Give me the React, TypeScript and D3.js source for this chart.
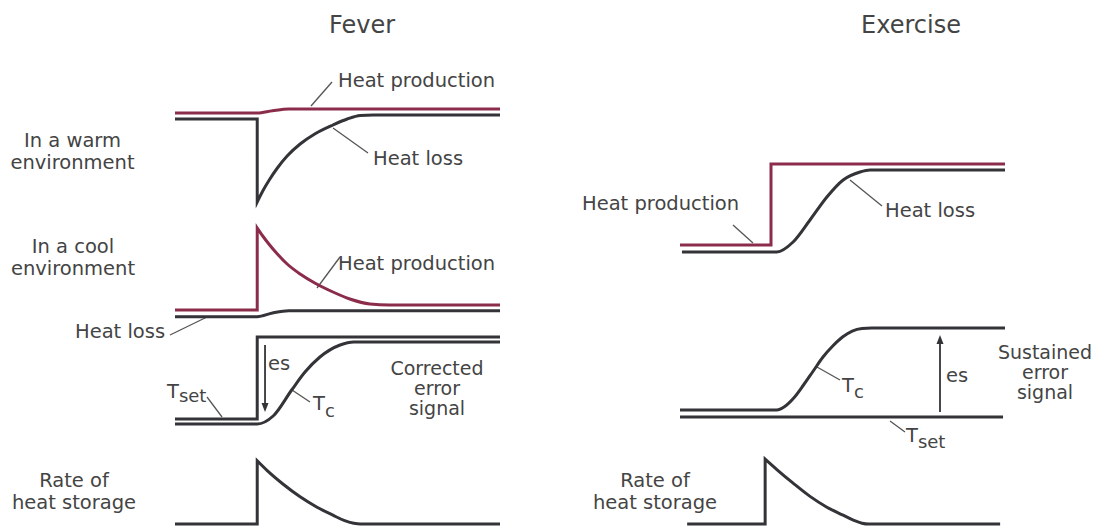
import React from "react";
import * as d3 from "d3";

type Pt = [number, number];
type Series = Pt[][]; // list of segments, each smoothed with monotone-x

// ---------- Data (time units 0..100, values in arbitrary units 0..100) ----------
// Fever – warm environment
const feverWarmProduction: Series = [[[0, 89], [25.3, 89], [30, 91.3], [35, 93], [100, 93]]];
const feverWarmLoss: Series = [
  [[0, 83], [25.3, 83]],
  [[25.3, 83], [25.3, 0]],
  [[25.3, 0], [27, 11], [29, 22], [31.5, 34], [34.5, 46], [38.5, 58], [43, 68], [48.6, 77], [53, 83], [57, 86.5], [61, 87], [100, 87]],
];
// Fever – cool environment
const feverCoolProduction: Series = [
  [[0, 8], [25.3, 8]],
  [[25.3, 8], [25.3, 90]],
  [[25.3, 90], [27, 82], [29, 73.5], [31.5, 64], [34.5, 54], [38.5, 44], [43, 35], [48.6, 26], [53.8, 19], [60, 14], [66, 13], [100, 13]],
];
const feverCoolLoss: Series = [[[0, 1.3], [25.3, 1.3], [30, 5], [35, 7.3], [100, 7.3]]];
// Fever – set point and core temperature
const feverTset: Series = [
  [[0, 5], [25.3, 5]],
  [[25.3, 5], [25.3, 87]],
  [[25.3, 87], [100, 87]],
];
const feverTc: Series = [[[0, 0], [25.3, 0], [30.2, 8], [35.9, 34], [40, 52], [44.6, 67], [50.8, 79], [55, 82], [100, 82]]];
const feverErrorArrow: Pt[] = [[27.7, 79], [27.7, 12]];
// Fever – rate of heat storage
const feverRate: Series = [
  [[0, 0], [25.3, 0]],
  [[25.3, 0], [25.3, 79]],
  [[25.3, 79], [28.3, 67], [33.2, 50], [38.5, 34], [43.7, 21], [48.6, 11], [52, 4.5], [55, 1], [57, 0], [100, 0]],
];

// Exercise – heat production / loss
const exProduction: Series = [
  [[0, 7], [28, 7]],
  [[28, 7], [28, 88]],
  [[28, 88], [100, 88]],
];
const exLoss: Series = [[[0.6, 0], [29.8, 0], [34.8, 10], [40, 32], [45.2, 55], [50.2, 72], [55.4, 80], [58.5, 82], [100, 82]]];
// Exercise – set point and core temperature
const exTset: Series = [[[0, 0], [99.4, 0]]];
const exTc: Series = [[[0, 7], [29.8, 7], [32, 10], [35, 19], [38, 32], [41, 46], [44, 60], [47, 71], [50, 80], [53, 86], [56, 88.5], [59, 89], [100, 89]]];
const exErrorArrow: Pt[] = [[80, 5], [80, 82]];
// Exercise – rate of heat storage
const exRate: Series = [
  [[2.2, 0], [26.2, 0]],
  [[26.2, 0], [26.2, 81]],
  [[26.2, 81], [29.8, 68], [34.8, 51], [40, 34.5], [45.2, 21], [50.2, 11], [53.5, 4.5], [56, 1], [58, 0], [98.5, 0]],
];

const panelTitles = ["Fever", "Exercise"];
const warmLabel = ["In a warm", "environment"];
const coolLabel = ["In a cool", "environment"];
const rateLabel = ["Rate of", "heat storage"];
const correctedLabel = ["Corrected", "error", "signal"];
const sustainedLabel = ["Sustained", "error", "signal"];

// ---------- Layout ----------
const W = 1099;
const H = 527;
const xL = d3.scaleLinear().domain([0, 100]).range([175, 500]);
const xR = d3.scaleLinear().domain([0, 100]).range([680, 1005]);
const yWarm = d3.scaleLinear().domain([0, 100]).range([202, 102]);
const yCool = d3.scaleLinear().domain([0, 100]).range([318, 218]);
const yCorr = d3.scaleLinear().domain([0, 100]).range([424, 324]);
const yRate = d3.scaleLinear().domain([0, 100]).range([524, 444]);
const yEx = d3.scaleLinear().domain([0, 100]).range([252, 152]);
const yExC = d3.scaleLinear().domain([0, 100]).range([417, 317]);

const RED = "#8a2c4a";
const DARK = "#333338";
const TEXT = "#444";
const LEADER = "#555";
const FONT = "DejaVu Sans";
const FS = 19.5;

function seriesPath(s: Series, x: d3.ScaleLinear<number, number>, y: d3.ScaleLinear<number, number>) {
  const line = d3
    .line<Pt>()
    .x((d) => x(d[0]))
    .y((d) => y(d[1]))
    .curve(d3.curveMonotoneX);
  return s
    .map((seg, i) => {
      const d = line(seg) || "";
      return i === 0 ? d : d.replace(/^M/, "L");
    })
    .join("");
}

const Curve = ({ s, x, y, color }: { s: Series; x: any; y: any; color: string }) => (
  <path d={seriesPath(s, x, y)} fill="none" stroke={color} strokeWidth={3} strokeLinejoin="miter" strokeMiterlimit={10} />
);

const Arrow = ({ pts, x, y }: { pts: Pt[]; x: any; y: any }) => {
  const x0 = x(pts[0][0]);
  const y0 = y(pts[0][1]);
  const x1 = x(pts[1][0]);
  const y1 = y(pts[1][1]);
  const dir = y1 > y0 ? 1 : -1;
  const hl = 9;
  const hw = 3.5;
  return (
    <g>
      <line x1={x0} y1={y0} x2={x1} y2={y1 - dir * hl} stroke={DARK} strokeWidth={1.8} />
      <path d={`M${x1},${y1} L${x1 - hw},${y1 - dir * hl} L${x1 + hw},${y1 - dir * hl} Z`} fill={DARK} />
    </g>
  );
};

const Leader = ({ a, b }: { a: Pt; b: Pt }) => (
  <line x1={a[0]} y1={a[1]} x2={b[0]} y2={b[1]} stroke={LEADER} strokeWidth={1.3} />
);

const Lines = ({ lines, cx, baselines, fs }: { lines: string[]; cx: number; baselines: number[]; fs?: number }) => (
  <g fontSize={fs}>
    {lines.map((t, i) => (
      <text key={i} x={cx} y={baselines[i]} textAnchor="middle">
        {t}
      </text>
    ))}
  </g>
);

export default function App() {
  return (
    <svg
      width={W}
      height={H}
      viewBox={`0 0 ${W} ${H}`}
      style={{ position: "absolute", left: 0, top: 0, background: "#fff" }}
    >
      <rect x={0} y={0} width={W} height={H} fill="#fff" />
      <g fontFamily={FONT} fontSize={FS} fill={TEXT}>
        {/* titles */}
        <text x={362} y={33} fontSize={24} textAnchor="middle">{panelTitles[0]}</text>
        <text x={911} y={33} fontSize={24} textAnchor="middle">{panelTitles[1]}</text>

        {/* row labels */}
        <Lines lines={warmLabel} cx={72.5} baselines={[147, 169]} />
        <Lines lines={coolLabel} cx={73} baselines={[253, 275]} />
        <Lines lines={rateLabel} cx={74} baselines={[487, 509]} />
        <Lines lines={rateLabel} cx={655} baselines={[487, 509]} />
        <Lines lines={correctedLabel} cx={437} baselines={[375, 395, 415]} fs={19} />
        <Lines lines={sustainedLabel} cx={1045} baselines={[359, 379, 399]} fs={19} />

        {/* curve labels */}
        <text x={338} y={87}>Heat production</text>
        <text x={373} y={165}>Heat loss</text>
        <text x={338} y={270}>Heat production</text>
        <text x={75} y={338}>Heat loss</text>
        <text x={582} y={210}>Heat production</text>
        <text x={885} y={217}>Heat loss</text>
        <text x={268} y={370}>es</text>
        <text x={946} y={382}>es</text>
        <text x={167} y={398}>T<tspan dy={4} fontSize={18}>set</tspan></text>
        <text x={313} y={410}>T<tspan dy={7} fontSize={18}>c</tspan></text>
        <text x={842} y={392}>T<tspan dy={6} fontSize={18}>c</tspan></text>
        <text x={906} y={442}>T<tspan dy={6} fontSize={18}>set</tspan></text>
      </g>

      {/* leaders */}
      <Leader a={[311, 106]} b={[332, 82]} />
      <Leader a={[333, 128]} b={[368, 153]} />
      <Leader a={[317, 288]} b={[340, 257]} />
      <Leader a={[170, 335]} b={[207, 317]} />
      <Leader a={[207, 397]} b={[222, 417]} />
      <Leader a={[292, 390]} b={[310, 402]} />
      <Leader a={[733, 225]} b={[753, 243]} />
      <Leader a={[850, 180]} b={[882, 206]} />
      <Leader a={[817, 367]} b={[840, 380]} />
      <Leader a={[890, 421]} b={[905, 432]} />

      {/* Fever */}
      <Curve s={feverWarmLoss} x={xL} y={yWarm} color={DARK} />
      <Curve s={feverWarmProduction} x={xL} y={yWarm} color={RED} />
      <Curve s={feverCoolLoss} x={xL} y={yCool} color={DARK} />
      <Curve s={feverCoolProduction} x={xL} y={yCool} color={RED} />
      <Curve s={feverTset} x={xL} y={yCorr} color={DARK} />
      <Curve s={feverTc} x={xL} y={yCorr} color={DARK} />
      <Arrow pts={feverErrorArrow} x={xL} y={yCorr} />
      <Curve s={feverRate} x={xL} y={yRate} color={DARK} />

      {/* Exercise */}
      <Curve s={exLoss} x={xR} y={yEx} color={DARK} />
      <Curve s={exProduction} x={xR} y={yEx} color={RED} />
      <Curve s={exTset} x={xR} y={yExC} color={DARK} />
      <Curve s={exTc} x={xR} y={yExC} color={DARK} />
      <Arrow pts={exErrorArrow} x={xR} y={yExC} />
      <Curve s={exRate} x={xR} y={yRate} color={DARK} />
    </svg>
  );
}
